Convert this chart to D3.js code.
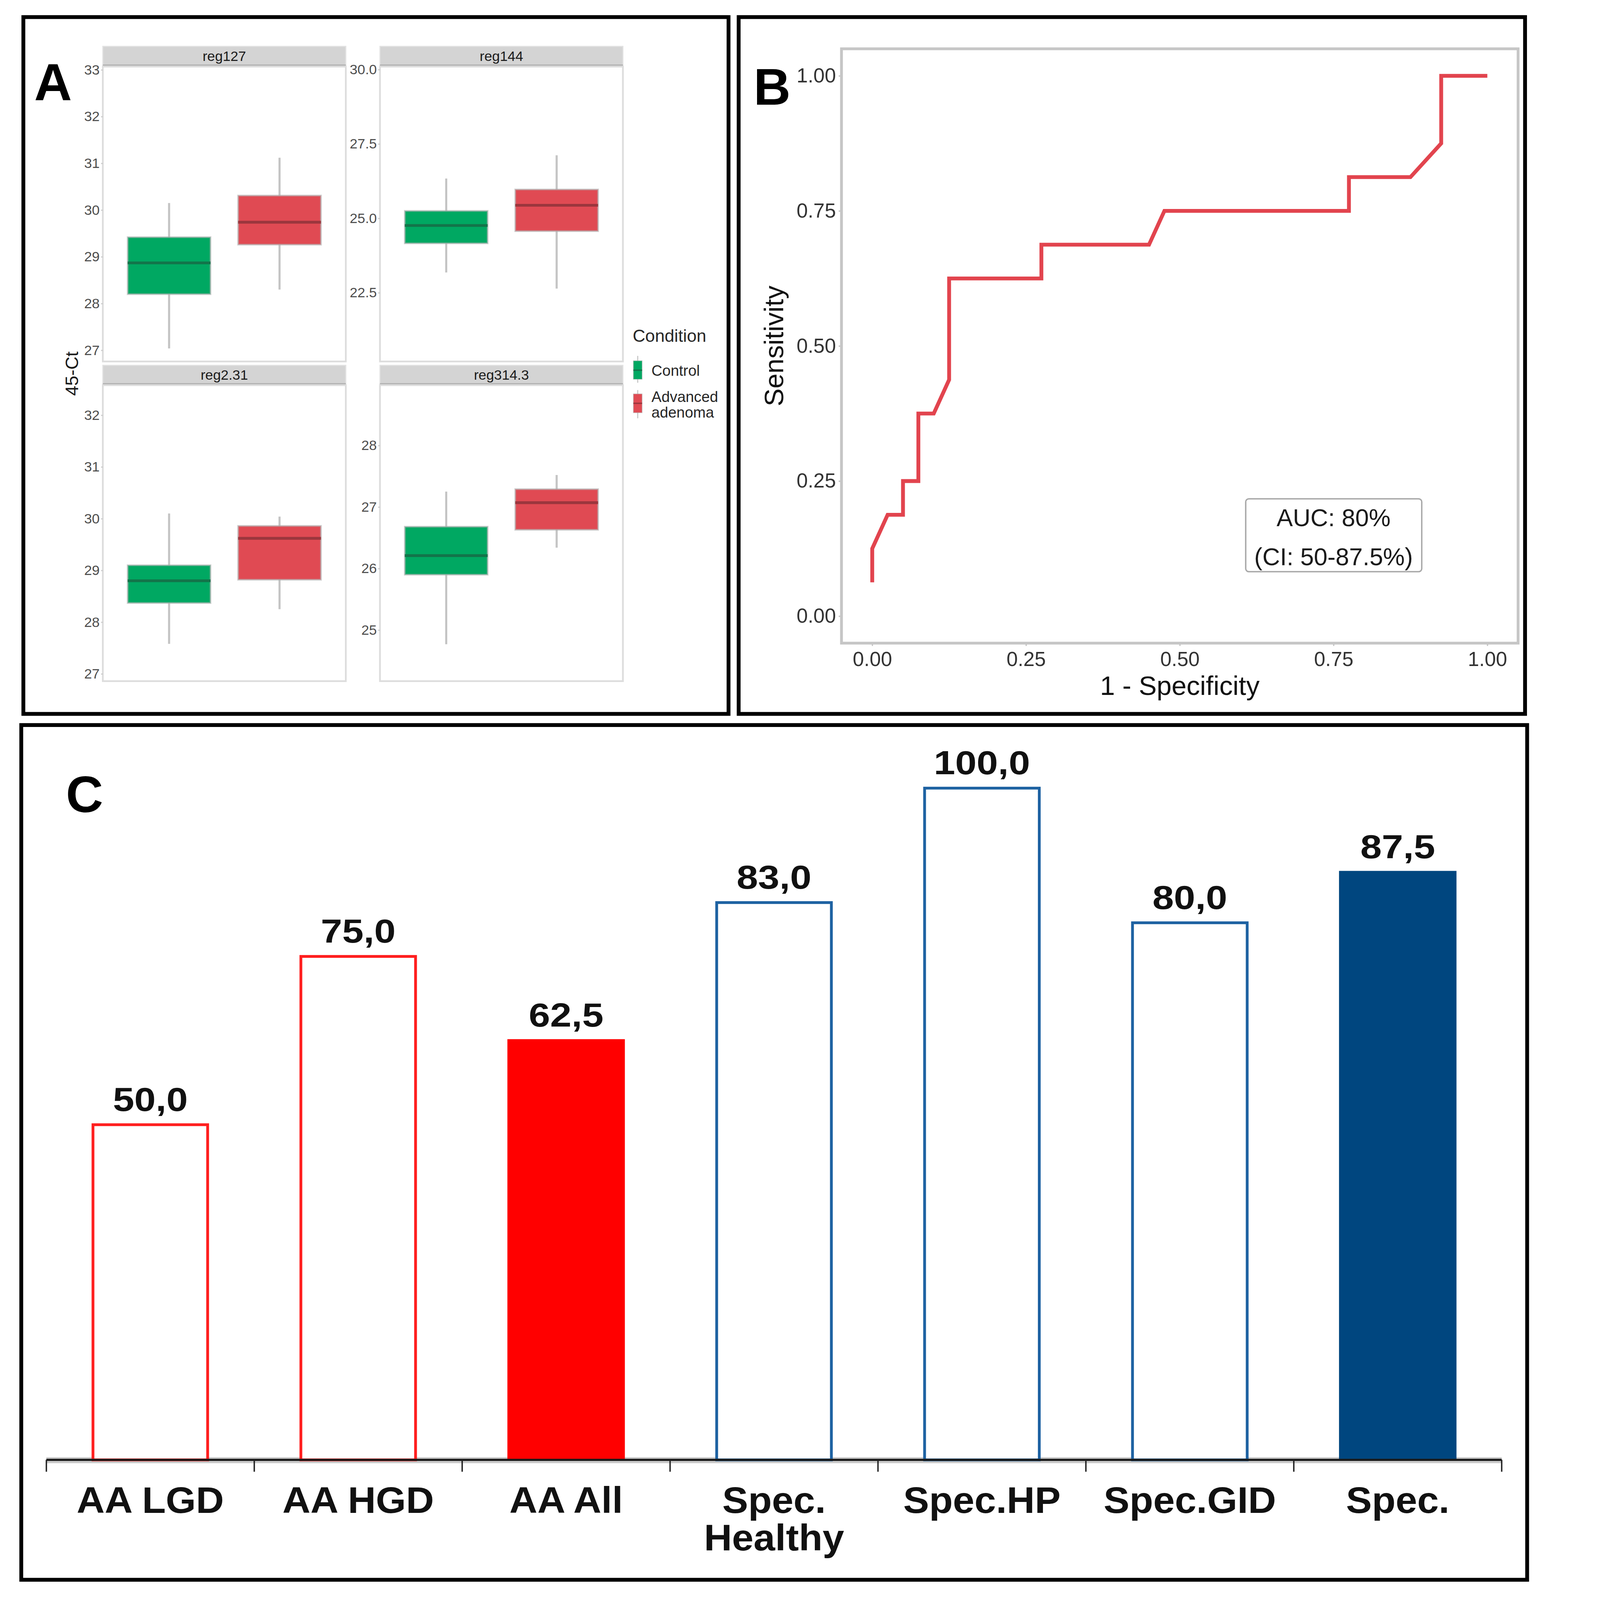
<!DOCTYPE html>
<html>
<head>
<meta charset="utf-8">
<script src="https://cdn.jsdelivr.net/npm/d3@7"></script>
<style>
  html, body { margin: 0; padding: 0; width: 100%; height: 100%; overflow: hidden; background: #fff; }
  #chart { width: 100vw; height: 100vh; }
  svg { display: block; }
</style>
</head>
<body>
<div id="chart"></div>
<script>
// ---------- data: panel A (boxplots, 45-Ct) ----------
const conditions = ["Control", "Advanced adenoma"];
const facetNames = ["reg127", "reg144", "reg2.31", "reg314.3"];

// [whisker low, q1, median, q3, whisker high], one row per condition
const reg127Stats = [[27.04, 28.20, 28.87, 29.42, 30.15], [28.30, 29.26, 29.74, 30.31, 31.12]];
const reg144Stats = [[23.18, 24.16, 24.76, 25.25, 26.34], [22.64, 24.57, 25.44, 25.97, 27.12]];
const reg231Stats = [[27.58, 28.37, 28.80, 29.10, 30.10], [28.25, 28.82, 29.62, 29.86, 30.04]];
const reg3143Stats = [[24.77, 25.90, 26.21, 26.68, 27.25], [26.34, 26.63, 27.07, 27.29, 27.52]];

const reg127Ticks = [27, 28, 29, 30, 31, 32, 33];
const reg144Ticks = [22.5, 25.0, 27.5, 30.0];
const reg231Ticks = [27, 28, 29, 30, 31, 32];
const reg3143Ticks = [25, 26, 27, 28];

// free y scales of the facets
const reg127Range = [26.76, 33.07];
const reg144Range = [20.19, 30.10];
const reg231Range = [26.86, 32.58];
const reg3143Range = [24.17, 28.98];

// ---------- data: panel B (ROC) ----------
const rocFpr = [0, 0, 0.025, 0.05, 0.05, 0.075, 0.075, 0.1, 0.125, 0.125, 0.275, 0.275, 0.45, 0.475, 0.775, 0.775, 0.875, 0.925, 0.925, 1.0];
const rocTpr = [0.0625, 0.125, 0.1875, 0.1875, 0.25, 0.25, 0.375, 0.375, 0.4375, 0.625, 0.625, 0.6875, 0.6875, 0.75, 0.75, 0.8125, 0.8125, 0.875, 1.0, 1.0];
const rocTicks = [0, 0.25, 0.5, 0.75, 1.0];
const aucLines = ["AUC: 80%", "(CI: 50-87.5%)"];
const aucAt = [0.75, 0.15];

// ---------- data: panel C (bars) ----------
const barCategories = ["AA LGD", "AA HGD", "AA All", "Spec. Healthy", "Spec.HP", "Spec.GID", "Spec."];
const barLabelLines = [["AA LGD"], ["AA HGD"], ["AA All"], ["Spec.", "Healthy"], ["Spec.HP"], ["Spec.GID"], ["Spec."]];
const barValues = [50.0, 75.0, 62.5, 83.0, 100.0, 80.0, 87.5];
const barMeasure = ["sens", "sens", "sens", "spec", "spec", "spec", "spec"];
const barOverall = [false, false, true, false, false, false, true];

// ---------- setup ----------
const FONT = "'Liberation Sans', Arial, Helvetica, sans-serif";
const W = 4421, H = 4590;

// drawn in 4421x4590 units, scaled to whatever the window is
const svg = d3.select("#chart").append("svg")
    .attr("width", "100%")
    .attr("height", "100%")
    .attr("viewBox", `0 0 ${W} ${H}`)
    .attr("preserveAspectRatio", "xMinYMin meet")
    .style("font-family", FONT);

svg.append("rect").attr("width", W).attr("height", H).attr("fill", "#fff");

// panel frames
const frames = [
    { x: 67, y: 49, w: 2023, h: 1999 },
    { x: 2119, y: 49, w: 2256, h: 1999 },
    { x: 61, y: 2080, w: 4320, h: 2452 }
];
svg.selectAll(".frame")
    .data(frames)
    .join("rect")
    .attr("class", "frame")
    .attr("x", d => d.x).attr("y", d => d.y)
    .attr("width", d => d.w).attr("height", d => d.h)
    .attr("fill", "none")
    .attr("stroke", "#000")
    .attr("stroke-width", 11);

// panel letters
svg.append("text").attr("x", 98).attr("y", 288).text("A")
    .attr("font-size", 150).attr("font-weight", "bold");
svg.append("text").attr("x", 2162).attr("y", 300).text("B")
    .attr("font-size", 147).attr("font-weight", "bold");
svg.append("text").attr("x", 189).attr("y", 2330).text("C")
    .attr("font-size", 148).attr("font-weight", "bold");

// ---------- panel A ----------
const boxColors = { "Control": "#00a862", "Advanced adenoma": "#e04a53" };
const medianColors = { "Control": "#13744a", "Advanced adenoma": "#9b363d" };

const facets = [
    { name: facetNames[0], stats: reg127Stats, ticks: reg127Ticks, range: reg127Range, fmt: d3.format("d") },
    { name: facetNames[1], stats: reg144Stats, ticks: reg144Ticks, range: reg144Range, fmt: d3.format(".1f") },
    { name: facetNames[2], stats: reg231Stats, ticks: reg231Ticks, range: reg231Range, fmt: d3.format("d") },
    { name: facetNames[3], stats: reg3143Stats, ticks: reg3143Ticks, range: reg3143Range, fmt: d3.format("d") }
];
const facetCols = [295, 1090];
const facetW = 697;
const facetRows = [{ strip: 133, top: 191, bottom: 1037 }, { strip: 1048, top: 1105, bottom: 1954 }];

facets.forEach((f, i) => {
    const x0 = facetCols[i % 2];
    const r = facetRows[Math.floor(i / 2)];
    const g = svg.append("g").attr("class", "facet");

    const x = d3.scalePoint().domain(conditions).range([x0, x0 + facetW]).padding(0.6);
    const y = d3.scaleLinear().domain(f.range).range([r.bottom, r.top]);

    // strip
    g.append("rect")
        .attr("x", x0).attr("y", r.strip)
        .attr("width", facetW).attr("height", r.top - r.strip)
        .attr("fill", "#d4d4d4")
        .attr("stroke", "#e2e2e2").attr("stroke-width", 3);
    g.append("line")
        .attr("x1", x0).attr("x2", x0 + facetW)
        .attr("y1", r.top - 3).attr("y2", r.top - 3)
        .attr("stroke", "#b2b2b2").attr("stroke-width", 6);
    g.append("text")
        .attr("x", x0 + facetW / 2).attr("y", (r.strip + r.top) / 2 + 13)
        .attr("text-anchor", "middle")
        .attr("font-size", 40).attr("fill", "#1a1a1a")
        .text(f.name);

    // panel border
    g.append("rect")
        .attr("x", x0).attr("y", r.top)
        .attr("width", facetW).attr("height", r.bottom - r.top)
        .attr("fill", "none")
        .attr("stroke", "#dddddd").attr("stroke-width", 5);

    // y axis
    const ax = g.append("g")
        .attr("transform", `translate(${x0},0)`)
        .call(d3.axisLeft(y).tickValues(f.ticks).tickFormat(f.fmt).tickSize(5).tickPadding(4));
    ax.select(".domain").remove();
    ax.attr("font-family", FONT).attr("font-size", 40);
    ax.selectAll(".tick line").attr("stroke", "#c8c8c8").attr("stroke-width", 3);
    ax.selectAll(".tick text").attr("fill", "#4d4d4d");

    // boxes
    const bw = x.step() * 0.75;
    const rows = f.stats.map((s, j) => ({ cond: conditions[j], lo: s[0], q1: s[1], med: s[2], q3: s[3], hi: s[4] }));
    const boxes = g.selectAll(".box").data(rows).join("g").attr("class", "box");

    boxes.append("line")
        .attr("x1", d => x(d.cond)).attr("x2", d => x(d.cond))
        .attr("y1", d => y(d.lo)).attr("y2", d => y(d.hi))
        .attr("stroke", "#c4c4c4").attr("stroke-width", 6);
    boxes.append("rect")
        .attr("x", d => x(d.cond) - bw / 2)
        .attr("y", d => y(d.q3))
        .attr("width", bw)
        .attr("height", d => y(d.q1) - y(d.q3))
        .attr("fill", d => boxColors[d.cond])
        .attr("stroke", "rgba(175,175,175,0.6)").attr("stroke-width", 5);
    boxes.append("line")
        .attr("x1", d => x(d.cond) - bw / 2).attr("x2", d => x(d.cond) + bw / 2)
        .attr("y1", d => y(d.med)).attr("y2", d => y(d.med))
        .attr("stroke", d => medianColors[d.cond]).attr("stroke-width", 8);
});

// y title
svg.append("text")
    .attr("transform", "translate(224,1072) rotate(-90)")
    .attr("text-anchor", "middle")
    .attr("font-size", 52).attr("fill", "#1a1a1a")
    .text("45-Ct");

// legend
const legend = svg.append("g").attr("class", "legend");
legend.append("text").attr("x", 1815).attr("y", 980)
    .attr("font-size", 50).attr("fill", "#262626").text("Condition");

const legendKeys = [
    { cond: conditions[0], top: 1021, q3: 1035, med: 1062, q1: 1088, bottom: 1098, lines: ["Control"], textY: 1078 },
    { cond: conditions[1], top: 1119, q3: 1130, med: 1157, q1: 1184, bottom: 1200, lines: ["Advanced", "adenoma"], textY: 1153 }
];
const keys = legend.selectAll(".key").data(legendKeys).join("g").attr("class", "key");
keys.append("line")
    .attr("x1", 1829.5).attr("x2", 1829.5)
    .attr("y1", d => d.top).attr("y2", d => d.bottom)
    .attr("stroke", "#c4c4c4").attr("stroke-width", 3);
keys.append("rect")
    .attr("x", 1817).attr("width", 25)
    .attr("y", d => d.q3).attr("height", d => d.q1 - d.q3)
    .attr("fill", d => boxColors[d.cond])
    .attr("stroke", "rgba(175,175,175,0.6)").attr("stroke-width", 2);
keys.append("line")
    .attr("x1", 1817).attr("x2", 1842)
    .attr("y1", d => d.med).attr("y2", d => d.med)
    .attr("stroke", d => medianColors[d.cond]).attr("stroke-width", 4);
keys.append("text")
    .attr("x", 1869).attr("y", d => d.textY)
    .attr("font-size", 43).attr("fill", "#262626")
    .selectAll("tspan")
    .data(d => d.lines)
    .join("tspan")
    .attr("x", 1869)
    .attr("dy", (d, i) => i === 0 ? 0 : 45)
    .text(d => d);

// ---------- panel B ----------
const bX = d3.scaleLinear().domain([-0.05, 1.05]).range([2414, 4355]);
const bY = d3.scaleLinear().domain([-0.05, 1.05]).range([1845, 140]);
const gB = svg.append("g").attr("class", "roc");

gB.append("rect")
    .attr("x", bX.range()[0]).attr("y", bY.range()[1])
    .attr("width", bX.range()[1] - bX.range()[0])
    .attr("height", bY.range()[0] - bY.range()[1])
    .attr("fill", "none")
    .attr("stroke", "#c6c6c6").attr("stroke-width", 8);

const bxAxis = gB.append("g")
    .attr("transform", `translate(0,${bY.range()[0]})`)
    .call(d3.axisBottom(bX).tickValues(rocTicks).tickFormat(d3.format(".2f")).tickSize(8).tickPadding(16));
const byAxis = gB.append("g")
    .attr("transform", `translate(${bX.range()[0]},0)`)
    .call(d3.axisLeft(bY).tickValues(rocTicks).tickFormat(d3.format(".2f")).tickSize(8).tickPadding(8));
[bxAxis, byAxis].forEach(a => {
    a.select(".domain").remove();
    a.attr("font-family", FONT).attr("font-size", 58);
    a.selectAll(".tick line").attr("stroke", "#c6c6c6").attr("stroke-width", 4);
    a.selectAll(".tick text").attr("fill", "#333");
});

const rocPoints = rocFpr.map((fpr, i) => [fpr, rocTpr[i]]);
gB.append("path")
    .datum(rocPoints)
    .attr("fill", "none")
    .attr("stroke", "#e2444e")
    .attr("stroke-width", 11)
    .attr("stroke-linejoin", "miter")
    .attr("d", d3.line().x(d => bX(d[0])).y(d => bY(d[1])));

gB.append("text")
    .attr("x", (bX.range()[0] + bX.range()[1]) / 2).attr("y", 1994)
    .attr("text-anchor", "middle")
    .attr("font-size", 77).attr("fill", "#111")
    .text("1 - Specificity");
gB.append("text")
    .attr("transform", `translate(2247,${(bY.range()[0] + bY.range()[1]) / 2}) rotate(-90)`)
    .attr("text-anchor", "middle")
    .attr("font-size", 77).attr("fill", "#111")
    .text("Sensitivity");

// AUC label
const aucCx = bX(aucAt[0]), aucCy = bY(aucAt[1]);
gB.append("rect")
    .attr("x", aucCx - 252).attr("y", aucCy - 104)
    .attr("width", 505).attr("height", 209)
    .attr("rx", 9)
    .attr("fill", "#fff")
    .attr("stroke", "#a8a8a8").attr("stroke-width", 4);
gB.selectAll(".auc")
    .data(aucLines)
    .join("text")
    .attr("class", "auc")
    .attr("x", aucCx)
    .attr("y", (d, i) => aucCy - 26 + i * 112)
    .attr("text-anchor", "middle")
    .attr("font-size", 70).attr("fill", "#1a1a1a")
    .text(d => d);

// ---------- panel C ----------
const barColors = { sens: "#ff1f1f", spec: "#1e62a2" };
const barFills = { sens: "#ff0000", spec: "#00467f" };

const cX = d3.scaleBand().domain(barCategories).range([133, 4308]).paddingInner(0.435).paddingOuter(0.2175);
const cXOuter = d3.scaleBand().domain(barCategories).range([133, 4308]);
const cY = d3.scaleLinear().domain([0, 100]).range([4188, 2257]);
const gC = svg.append("g").attr("class", "bars");

const bars = barCategories.map((c, i) => ({
    cat: c, value: barValues[i], measure: barMeasure[i], overall: barOverall[i], lines: barLabelLines[i]
}));

// soft grey under the axis
gC.append("line")
    .attr("x1", cXOuter.range()[0]).attr("x2", cXOuter.range()[1])
    .attr("y1", cY(0) + 1).attr("y2", cY(0) + 1)
    .attr("stroke", "#c9c9c9").attr("stroke-width", 17);

const sw = 8;
gC.selectAll(".bar")
    .data(bars)
    .join("rect")
    .attr("class", "bar")
    .attr("x", d => cX(d.cat) + (d.overall ? 0 : sw / 2))
    .attr("width", d => cX.bandwidth() - (d.overall ? 0 : sw))
    .attr("y", d => cY(d.value) + (d.overall ? 0 : sw / 2))
    .attr("height", d => cY(0) - cY(d.value) - (d.overall ? 0 : sw / 2))
    .attr("fill", d => d.overall ? barFills[d.measure] : "#fff")
    .attr("stroke", d => d.overall ? "none" : barColors[d.measure])
    .attr("stroke-width", sw);

// axis line and ticks at category boundaries
gC.append("line")
    .attr("x1", cXOuter.range()[0]).attr("x2", cXOuter.range()[1])
    .attr("y1", cY(0)).attr("y2", cY(0))
    .attr("stroke", "#1a1a1a").attr("stroke-width", 6);
const tickXs = barCategories.map(c => cXOuter(c)).concat([cXOuter.range()[1]]);
gC.selectAll(".ctick")
    .data(tickXs)
    .join("line")
    .attr("class", "ctick")
    .attr("x1", d => d).attr("x2", d => d)
    .attr("y1", cY(0)).attr("y2", cY(0) + 34)
    .attr("stroke", "#222").attr("stroke-width", 4);

// value labels
const valueFmt = v => d3.format(".1f")(v).replace(".", ",");
gC.selectAll(".vlabel")
    .data(bars)
    .join("text")
    .attr("class", "vlabel")
    .attr("transform", d => `translate(${cX(d.cat) + cX.bandwidth() / 2},${cY(d.value) - 36}) scale(1.15,1)`)
    .attr("text-anchor", "middle")
    .attr("font-size", 96).attr("font-weight", "bold").attr("fill", "#111")
    .text(d => valueFmt(d.value));

// category labels
gC.selectAll(".clabel")
    .data(bars)
    .join("text")
    .attr("class", "clabel")
    .attr("transform", d => `translate(${cXOuter(d.cat) + cXOuter.bandwidth() / 2},4340) scale(1.05,1)`)
    .attr("text-anchor", "middle")
    .attr("font-size", 106).attr("font-weight", "bold").attr("fill", "#111")
    .selectAll("tspan")
    .data(d => d.lines)
    .join("tspan")
    .attr("x", 0)
    .attr("dy", (d, i) => i === 0 ? 0 : 108)
    .text(d => d);
</script>
</body>
</html>
